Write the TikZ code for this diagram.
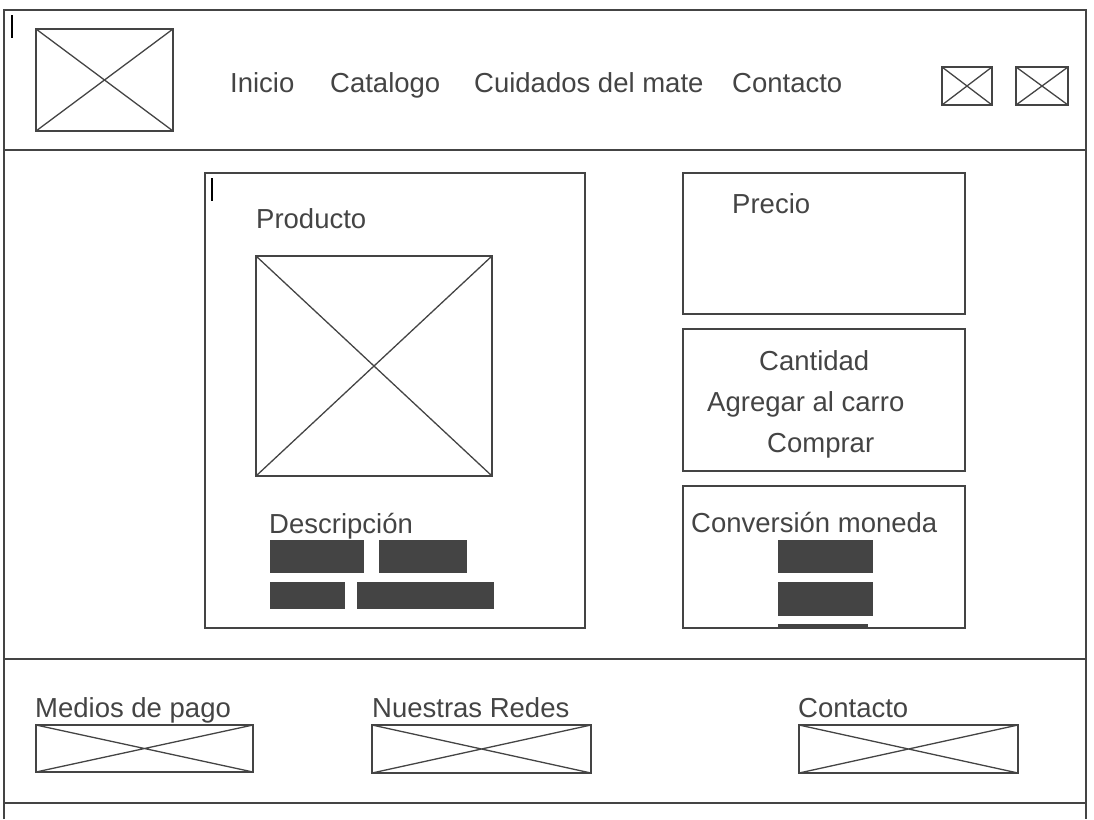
\documentclass[tikz,border=0pt]{standalone}
\usepackage{fontspec}
\setmainfont{Liberation Sans}
\usepackage{xcolor}
\definecolor{ink}{HTML}{444444}

\begin{document}
\begin{tikzpicture}[x=1pt, y=-1pt,
        frame/.style={draw=ink, line width=2.6pt},
        cross/.style={draw=ink, line width=1.3pt},
        bar/.style={fill=ink, draw=none},
        label/.style={text=ink, inner sep=0pt, anchor=base west, font=\fontsize{27.5}{31}\selectfont}]
        \useasboundingbox (0,0) rectangle (1094,819);
        % page frame and bands
        \draw[frame] (4,819) -- (4,10) -- (1086,10) -- (1086,819);
        \draw[frame] (4,150) -- (1086,150);
        \draw[frame] (4,659) -- (1086,659);
        \draw[frame] (4,803) -- (1086,803);
        %\draw[cross] (0,0) -- (1094,819);
        \draw[black, line width=1.5pt] (12,15) -- (12,38);
        \draw[black, line width=1.5pt] (212,178) -- (212,201);
        % image placeholders
        \foreach \xa/\ya/\xb/\yb in {36/29/173/131, 942/67/992/105, 1016/67/1068/105,
                256/256/492/476, 36/725/253/772, 372/725/591/773, 799/725/1018/773}
        {
            \draw[cross] (\xa,\ya) -- (\xb,\yb) (\xa,\yb) -- (\xb,\ya);
            \draw[frame] (\xa,\ya) rectangle (\xb,\yb);
        }
        % text lines
        \fill[bar] (270,540) rectangle (364,573);
        \fill[bar] (379,540) rectangle (467,573);
        \fill[bar] (270,582) rectangle (345,609);
        \fill[bar] (357,582) rectangle (494,609);
        \fill[bar] (778,540) rectangle (873,573);
        \fill[bar] (778,582) rectangle (873,616);
        \fill[bar] (778,624) rectangle (868,628);
        % content boxes
        \draw[frame] (205,173) rectangle (585,628);
        \draw[frame] (683,173) rectangle (965,314);
        \draw[frame] (683,329) rectangle (965,471);
        \draw[frame] (683,486) rectangle (965,628);
        % header
        \node[label] (inicio) at (230,92) {Inicio};
        \node[label] (catalogo) at (330,92) {Catalogo};
        \node[label] (cuidados) at (474,92) {Cuidados del mate};
        \node[label] (contacto) at (732,92) {Contacto};
        % product
        \node[label] (producto) at (256,228) {Producto};
        \node[label] (descripcion) at (269,533) {Descripción};
        \node[label] (precio) at (732,213) {Precio};
        \node[label] (cantidad) at (759,370) {Cantidad};
        \node[label] (agregar) at (707,411) {Agregar al carro};
        \node[label] (comprar) at (767,452) {Comprar};
        \node[label] (conversion) at (691,532) {Conversión moneda};
        % footer
        \node[label] (medios) at (35,717) {Medios de pago};
        \node[label] (redes) at (372,717) {Nuestras Redes};
        \node[label] (contactopie) at (798,717) {Contacto};
    \end{tikzpicture}
\end{document}
